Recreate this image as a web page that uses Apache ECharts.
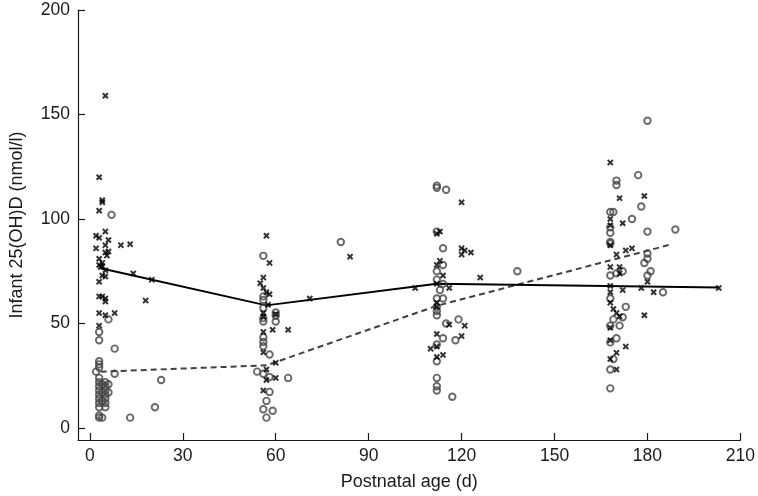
<!DOCTYPE html>
<html>
<head>
<meta charset="utf-8">
<script src="https://cdn.jsdelivr.net/npm/echarts@6/dist/echarts.min.js"></script>
<style>
html,body{margin:0;padding:0;background:#fff;}
#chart{width:758px;height:496px;}
</style>
</head>
<body>
<div id="chart"></div>
<script>
// Tick labels
const xTicks = [0, 30, 60, 90, 120, 150, 180, 210];
const yTicks = [0, 50, 100, 150, 200];

// Group marked with crosses: [age (d), 25(OH)D (nmol/l)]
const crossVisit1 = [[5,159],[3,120],[4,109],[4,108],[3,104],[2,92],[3,91],[5,94],[6,90],[2,86],[5,87.5],[10,87.5],[13,88],[5,84],[6,84.5],[5.5,82.5],[3,81],[4,79],[3,78],[4,77.5],[3.5,77],[5,75.5],[5,72.5],[4,73],[3,70],[14,74],[20,71],[18,61],[3,63],[4,63],[5,62],[5,60.5],[3,55],[5,54],[8,55],[3,49]];
const crossVisit2 = [[57,92],[58,79],[56,72],[55,69.3],[56,67],[57,65],[58,64],[57.5,59],[56,55],[56,53.4],[60,54.5],[59,47],[64,47],[56,46],[56,36.3],[60,31.2],[57,28],[60,24],[57,23],[56,18],[71,62],[84,82]];
const crossVisit3 = [[120,108],[113,94],[112,93],[120,86],[121,85],[120,83],[123,84],[113,80],[112,78],[114,73],[126,72],[112,69],[105,67],[116,67],[112,60],[112,58],[116,49.5],[121,49],[112,45],[120,44],[110,38],[112,39],[112,34],[114,35]];
const crossVisit4 = [[168,127],[171,110],[179,111],[168,100],[168,97],[172,98],[168,87.5],[173,85],[175,86],[170,83],[168,77],[171,77],[171,74],[180,70],[168,68],[178,67],[172,66],[168,65],[182,65],[203,67],[168,60],[169,57],[170,55],[171,53.4],[179,54],[168,48],[168,42],[173,39],[170,36],[168,33],[170,28]];

// Group marked with circles
const circleVisit1 = [[7,102],[6,52],[3,46],[3,42],[8,38],[3,32],[3,30.5],[3,29],[2,27],[8,26],[23,23],[21,10],[13,5],[3,24],[3,22],[3,20],[3,18],[3,16],[3,14],[3,12],[3,10],[3,6],[3,5],[4,21],[4,17],[4,13],[4,5],[5,22],[5,20],[5,18],[5,16],[5,14],[5,12],[5,10],[6,21],[6,17]];
const circleVisit2 = [[56,82.4],[56,63],[56,61.3],[56,57.4],[56,52.6],[56,51],[60,55.3],[60,53.7],[60,51],[56,43.4],[56,41.2],[56,39.2],[58,35.2],[54,27],[56,26],[58,24.4],[64,24],[58,17.3],[57,13],[56,9],[59,8.3],[57,5],[81,89]];
const circleVisit3 = [[112,116],[112,115],[115,114],[112,94],[114,86],[114,78],[112,75],[112,71],[114,69],[113,66],[112,62],[114,62],[112,58],[112,56],[112,54],[115,50],[119,52],[114,43],[118,42],[112,40],[112,32],[112,24],[112,20],[112,18],[117,15],[138,75]];
const circleVisit4 = [[180,147],[177,121],[170,118.4],[170,116.3],[178,106],[168,103.4],[169,103.4],[175,100],[168,96],[168,93.4],[180,94],[189,95],[168,89],[168,88.3],[180,83.5],[180,81],[179,79],[168,73],[170,74],[172,75],[181,75],[180,73],[185,65],[168,62],[173,58],[172,53],[169,52],[171,49],[168,49],[170,43],[168,41],[169,33],[168,28],[168,19]];

// Group means over time
const crossMean = [[3.5,76.5],[57,58.7],[112,69],[203,67.3]];
const circleMean = [[3.5,27],[57,30],[112,58.5],[188,88]];

const xName = 'Postnatal age (d)';
const yName = 'Infant 25(OH)D (nmol/l)';

const FONT = '"Liberation Sans", Arial, Helvetica, sans-serif';
const crossPath = 'path://M2.2,0L5,2.8L7.8,0L10,2.2L7.2,5L10,7.8L7.8,10L5,7.2L2.2,10L0,7.8L2.8,5L0,2.2Z';

const chart = echarts.init(document.getElementById('chart'), null, {renderer: 'canvas'});
chart.setOption({
  animation: false,
  backgroundColor: '#ffffff',
  grid: {left: 73, right: 15, top: 10, bottom: 53, containLabel: false},
  xAxis: {
    type: 'value',
    min: -3.83, max: 210,
    name: xName, nameLocation: 'middle', nameGap: 33,
    nameTextStyle: {fontFamily: FONT, fontSize: 18, color: '#1a1a1a'},
    axisLine: {show: true, onZero: false, lineStyle: {color: '#1a1a1a', width: 1.2}},
    axisTick: {show: true, inside: true, length: 7, customValues: xTicks, lineStyle: {color: '#1a1a1a', width: 1.2}},
    axisLabel: {customValues: xTicks, margin: 7, fontFamily: FONT, fontSize: 17.5, color: '#1a1a1a'},
    splitLine: {show: false}
  },
  yAxis: {
    type: 'value',
    min: -5.7, max: 200,
    name: yName, nameLocation: 'middle', nameGap: 52, nameRotate: 90,
    nameTextStyle: {fontFamily: FONT, fontSize: 18, color: '#1a1a1a'},
    axisLine: {show: true, onZero: false, lineStyle: {color: '#1a1a1a', width: 1.2}},
    axisTick: {show: true, inside: true, length: 7, customValues: yTicks, lineStyle: {color: '#1a1a1a', width: 1.2}},
    axisLabel: {customValues: yTicks, margin: 8, fontFamily: FONT, fontSize: 17.5, color: '#1a1a1a'},
    splitLine: {show: false}
  },
  series: [
    {
      type: 'line', data: circleMean, symbol: 'none', z: 2,
      lineStyle: {color: '#404040', width: 2, type: [6, 4]}
    },
    {
      type: 'line', data: crossMean, symbol: 'none', z: 2,
      lineStyle: {color: '#000000', width: 2}
    },
    {
      type: 'scatter', z: 3,
      data: [].concat(circleVisit1, circleVisit2, circleVisit3, circleVisit4),
      symbol: 'circle', symbolSize: 6.5,
      itemStyle: {color: 'rgba(255,255,255,0)', borderColor: '#444444', borderWidth: 1.9}
    },
    {
      type: 'scatter', z: 4,
      data: [].concat(crossVisit1, crossVisit2, crossVisit3, crossVisit4),
      symbol: crossPath, symbolSize: 6.5,
      itemStyle: {color: '#000000'}
    }
  ]
});
</script>
</body>
</html>
